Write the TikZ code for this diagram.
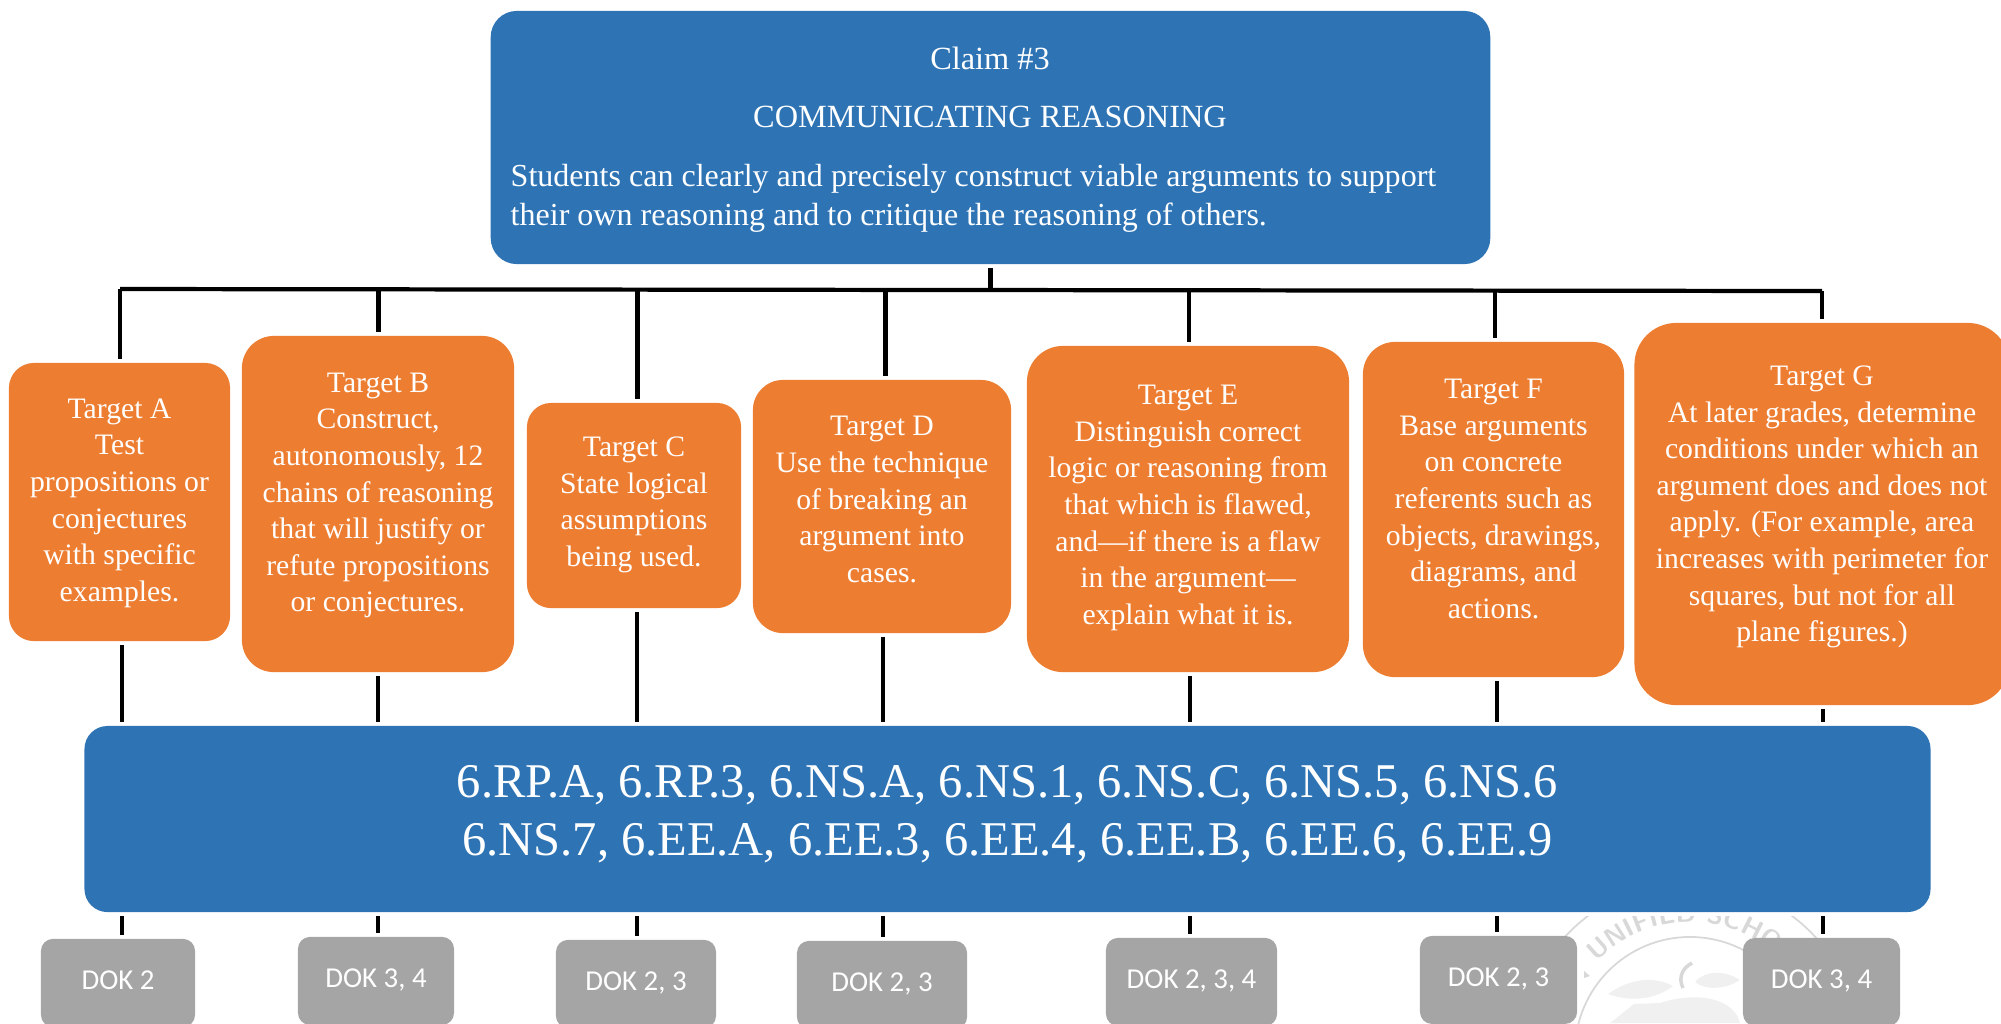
\documentclass[tikz,border=0pt]{standalone}
\usepackage{fontspec}
\setmainfont{Liberation Serif}
\newfontfamily\dokfont{Carlito}
\usetikzlibrary{decorations.text}
\definecolor{claimblue}{HTML}{2E74B5}
\definecolor{targetorange}{HTML}{ED7D31}
\definecolor{dokgray}{HTML}{A5A5A5}
\definecolor{sealgray}{HTML}{D8D8D8}
\definecolor{leafgray}{HTML}{F0F0F0}
\tikzset{
  bluebox/.style={fill=claimblue,rounded corners=0.26cm,inner sep=0pt,outer sep=1.1pt,text=white},
  target/.style={fill=targetorange,inner sep=0pt,outer sep=1.1pt,text=white,align=center,
    font=\fontsize{8.44}{10.4}\selectfont},
  dokbox/.style={fill=dokgray,rounded corners=0.12cm,inner sep=0pt,outer sep=1.1pt,text=white,
    minimum height=0.88cm,text depth=1.7pt,font=\dokfont\fontsize{8.2}{10}\selectfont},
  claimline/.style={text=white,inner sep=0pt,font=\fontsize{9.2}{11.4}\selectfont},
  link/.style={draw=black,line width=1.2pt}
}
\begin{document}
\begin{tikzpicture}[x=0.01cm,y=-0.01cm]
  \useasboundingbox (0,0) rectangle (2001,1023);
  \clip (0,0) rectangle (2001,1023);
  \begin{scope}
    \clip (1500,916) rectangle (1900,1023);
    \draw[sealgray,line width=0.5pt] (1690,1052) circle (1.15cm);
    \draw[sealgray,line width=0.5pt] (1690,1052) circle (1.70cm);
    \path[decorate,decoration={text along path,text align=left,
      text={|\sffamily\bfseries\fontsize{7.4}{8}\selectfont\color{sealgray}|UNIFIED SCHO}}]
      ([shift={(136:1.3cm)}]1690,1052) arc[start angle=136,end angle=45,radius=1.3cm];
    \fill[sealgray] (1584,971) -- (1590,976) -- (1584,978) -- cycle;
    \fill[leafgray] (1608,994) .. controls (1630,978) and (1655,976) .. (1673,986)
      .. controls (1655,1000) and (1630,1002) .. (1608,994);
    \fill[leafgray] (1695,982) .. controls (1705,970) and (1725,970) .. (1740,980)
      .. controls (1725,990) and (1705,990) .. (1695,982);
    \draw[sealgray,line width=1pt] (1692,963) .. controls (1682,968) and (1678,978) .. (1683,988);
    \fill[leafgray] (1610,1023) -- (1634,1004) -- (1660,1003) .. controls (1700,990) and (1735,1000) .. (1740,1023) -- cycle;
  \end{scope}
  \node[bluebox,minimum width=9.99cm,minimum height=2.53cm] (claim) at (990.5,137.5) {};
  \node[claimline] (claimhead) at (990,58) {Claim \#3};
  \node[claimline] (claimname) at (990,117) {COMMUNICATING REASONING};
  \node[claimline,font=\fontsize{9.11}{11.4}\selectfont,anchor=west] (claimtextA) at (510,179) {Students can clearly and precisely construct viable arguments to support};
  \node[claimline,font=\fontsize{9.11}{11.4}\selectfont,anchor=west] (claimtextB) at (510,218) {their own reasoning and to critique the reasoning of others.};
  \node[target,rounded corners=0.25cm,minimum width=2.21cm,minimum height=2.78cm,text depth=1.2pt] (targetA) at (119.5,502)
    {Target A\\Test\\propositions or\\conjectures\\with specific\\examples.};
  \node[target,rounded corners=0.32cm,minimum width=2.72cm,minimum height=3.36cm,text depth=6.6pt] (targetB) at (378,504)
    {Target B\\Construct,\\autonomously, 12\\chains of reasoning\\that will justify or\\refute propositions\\or conjectures.};
  \node[target,rounded corners=0.24cm,minimum width=2.14cm,minimum height=2.05cm,text depth=2.1pt] (targetC) at (634,505.5)
    {Target C\\State logical\\assumptions\\being used.};
  \node[target,rounded corners=0.3cm,minimum width=2.58cm,minimum height=2.53cm,text depth=4.1pt] (targetD) at (882,506.5)
    {Target D\\Use the technique\\of breaking an\\argument into\\cases.};
  \node[target,rounded corners=0.36cm,minimum width=3.22cm,minimum height=3.26cm,text depth=2.4pt] (targetE) at (1188,509)
    {Target E\\Distinguish correct\\logic or reasoning from\\that which is flawed,\\and---if there is a flaw\\in the argument---\\explain what it is.};
  \node[target,rounded corners=0.32cm,minimum width=2.61cm,minimum height=3.35cm,text depth=6.1pt] (targetF) at (1493.5,509.5)
    {Target F\\Base arguments\\on concrete\\referents such as\\objects, drawings,\\diagrams, and\\actions.};
  \node[target,rounded corners=0.42cm,minimum width=3.75cm,minimum height=3.82cm,text depth=5.8pt] (targetG) at (1822,514)
    {Target G\\At later grades, determine\\conditions under which an\\argument does and does not\\apply. (For example, area\\increases with perimeter for\\squares, but not for all\\plane figures.)};
  \node[bluebox,rounded corners=0.23cm,minimum width=18.45cm,minimum height=1.86cm,align=center,text depth=5pt,
    font=\fontsize{13.78}{16.6}\selectfont] (band) at (1007.5,819)
    {6.RP.A, 6.RP.3, 6.NS.A, 6.NS.1, 6.NS.C, 6.NS.5, 6.NS.6\\6.NS.7, 6.EE.A, 6.EE.3, 6.EE.4, 6.EE.B, 6.EE.6, 6.EE.9};
  \node[dokbox,minimum width=1.54cm,anchor=north] (dokA) at (118,935) {DOK 2};
  \node[dokbox,minimum width=1.56cm,anchor=north] (dokB) at (376,933) {DOK 3, 4};
  \node[dokbox,minimum width=1.60cm,anchor=north] (dokC) at (636,936) {DOK 2, 3};
  \node[dokbox,minimum width=1.70cm,anchor=north] (dokD) at (882,937) {DOK 2, 3};
  \node[dokbox,minimum width=1.71cm,anchor=north] (dokE) at (1191.5,934) {DOK 2, 3, 4};
  \node[dokbox,minimum width=1.57cm,anchor=north] (dokF) at (1498.5,932) {DOK 2, 3};
  \node[dokbox,minimum width=1.57cm,anchor=north] (dokG) at (1821.5,934) {DOK 3, 4};
  \coordinate (barA) at (120,289);
  \coordinate (barB) at (378.5,289.5);
  \coordinate (barC) at (637.5,290);
  \coordinate (barD) at (885.5,290);
  \coordinate (barE) at (1189,290.5);
  \coordinate (barF) at (1495,291);
  \coordinate (barG) at (1822,291);
  \coordinate (barClaim) at (991,290);
  \coordinate (colA) at (122,800);
  \coordinate (colB) at (378,800);
  \coordinate (colC) at (637,800);
  \coordinate (colD) at (883,800);
  \coordinate (colE) at (1190,800);
  \coordinate (colF) at (1497,800);
  \coordinate (colG) at (1823,800);
  \draw[link] (barA) -- (barG);
  \draw[link] (claim.south) -- (claim.south |- barClaim);
  \draw[link] (barA) -- (barA |- targetA.north) (targetA.south -| colA) -- (band.north -| colA) (band.south -| colA) -- (dokA.north -| colA);
  \draw[link] (barB) -- (barB |- targetB.north) (targetB.south -| colB) -- (band.north -| colB) (band.south -| colB) -- (dokB.north -| colB);
  \draw[link] (barC) -- (barC |- targetC.north) (targetC.south -| colC) -- (band.north -| colC) (band.south -| colC) -- (dokC.north -| colC);
  \draw[link] (barD) -- (barD |- targetD.north) (targetD.south -| colD) -- (band.north -| colD) (band.south -| colD) -- (dokD.north -| colD);
  \draw[link] (barE) -- (barE |- targetE.north) (targetE.south -| colE) -- (band.north -| colE) (band.south -| colE) -- (dokE.north -| colE);
  \draw[link] (barF) -- (barF |- targetF.north) (targetF.south -| colF) -- (band.north -| colF) (band.south -| colF) -- (dokF.north -| colF);
  \draw[link] (barG) -- (barG |- targetG.north) (targetG.south -| colG) -- (band.north -| colG) (band.south -| colG) -- (dokG.north -| colG);
\end{tikzpicture}
\end{document}
